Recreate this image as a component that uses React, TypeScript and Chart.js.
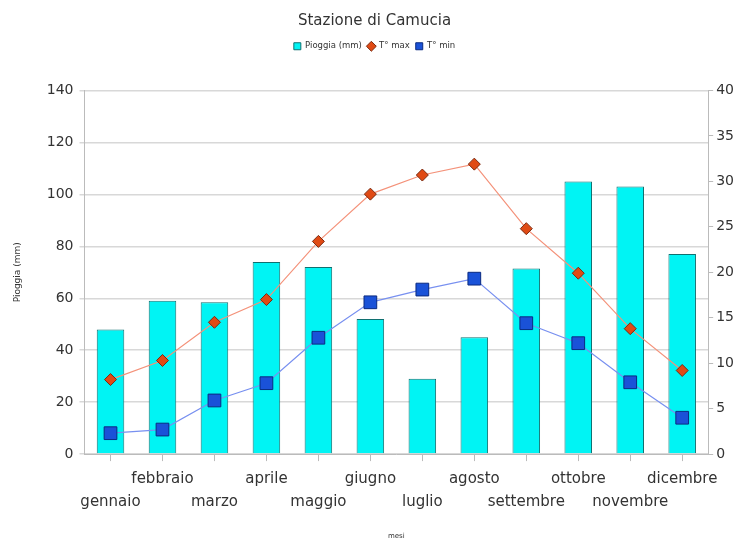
import React, { useEffect, useRef } from "react";
import { Chart, registerables } from "chart.js";

Chart.register(...registerables);

const months: (string | string[])[] = [
  ["", "gennaio"], ["febbraio"], ["", "marzo"], ["aprile"], ["", "maggio"], ["giugno"],
  ["", "luglio"], ["agosto"], ["", "settembre"], ["ottobre"], ["", "novembre"], ["dicembre"],
];
const pioggia = [48, 59, 58.5, 74, 72, 52, 29, 45, 71.5, 105, 103, 77];
const tMax = [8.2, 10.3, 14.5, 17, 23.4, 28.6, 30.7, 31.9, 24.8, 19.9, 13.8, 9.2];
const tMin = [2.3, 2.7, 5.9, 7.8, 12.8, 16.7, 18.1, 19.3, 14.4, 12.2, 7.9, 4.0];

const FONT = "'DejaVu Sans', sans-serif";
const legendRank = [1, 2, 0];

const legendSpacer = {
  id: "legendSpacer",
  afterInit(chart: any) {
    const lg = chart.legend;
    if (!lg) return;
    const orig = lg.fit;
    lg.fit = function () {
      orig.call(this);
      this.height += 30;
    };
  },
};

export default function App() {
  const ref = useRef<HTMLCanvasElement>(null);
  useEffect(() => {
    if (!ref.current) return;
    const chart = new Chart(ref.current, {
      plugins: [legendSpacer],
      data: {
        labels: months,
        datasets: [
          {
            type: "line",
            label: "T° max",
            data: tMax,
            yAxisID: "y1",
            borderColor: "#f4927a",
            borderWidth: 1.2,
            backgroundColor: "#e04a14",
            pointBackgroundColor: "#e04a14",
            pointBorderColor: "#7a2a10",
            pointBorderWidth: 1,
            pointStyle: "rectRot",
            pointRadius: 6,
            tension: 0,
            order: 1,
          },
          {
            type: "line",
            label: "T° min",
            data: tMin,
            yAxisID: "y1",
            borderColor: "#7890f0",
            borderWidth: 1.2,
            backgroundColor: "#1a52d8",
            pointBackgroundColor: "#1a52d8",
            pointBorderColor: "#0a2a80",
            pointBorderWidth: 1,
            pointStyle: "rect",
            pointRadius: 9,
            tension: 0,
            order: 2,
          },
          {
            type: "bar",
            label: "Pioggia (mm)",
            data: pioggia,
            yAxisID: "y",
            backgroundColor: "#00f4f4",
            borderColor: "#107070",
            borderWidth: 1,
            barPercentage: 0.53,
            categoryPercentage: 1,
            pointStyle: "rect",
            order: 3,
          },
        ],
      },
      options: {
        animation: false,
        responsive: true,
        maintainAspectRatio: false,
        layout: { padding: { left: 12, right: 1, top: 12, bottom: 0 } },
        plugins: {
          title: {
            display: true,
            text: "Stazione di Camucia",
            color: "#333",
            font: { family: FONT, size: 15, weight: "normal" },
            padding: { top: 0, bottom: 6 },
          },
          legend: {
            display: true,
            labels: {
              usePointStyle: true,
              boxWidth: 7,
              boxHeight: 7,
              padding: 6,
              color: "#333",
              font: { family: FONT, size: 8.5 },
              sort: (a: any, b: any) => legendRank[a.datasetIndex] - legendRank[b.datasetIndex],
            },
          },
          tooltip: { enabled: false },
        },
        scales: {
          x: {
            grid: { display: true, offset: false, drawOnChartArea: false, drawTicks: true, tickLength: 7, color: "#bbb" },
            border: { display: true, color: "#bbb" },
            ticks: {
              color: "#333",
              font: { family: FONT, size: 15, lineHeight: 1.55 },
              maxRotation: 0,
              autoSkip: false,
              padding: 6,
            },
            title: { display: true, text: "mesi", color: "#333", font: { family: FONT, size: 7 }, padding: { top: 12, bottom: 2 } },
          },
          y: {
            position: "left",
            min: 0,
            max: 140,
            ticks: { stepSize: 20, color: "#333", font: { family: FONT, size: 14 }, padding: 6 },
            grid: { color: "#d8d8d8", lineWidth: 1.5, drawTicks: true, tickLength: 5 },
            border: { display: true, color: "#bbb" },
            title: { display: true, text: "Pioggia (mm)", color: "#333", font: { family: FONT, size: 9 }, padding: { top: 0, bottom: 18 } },
          },
          y1: {
            position: "right",
            min: 0,
            max: 40,
            ticks: { stepSize: 5, color: "#333", font: { family: FONT, size: 14 }, padding: 3 },
            grid: { drawOnChartArea: false, drawTicks: true, tickLength: 5, color: "#bbb" },
            border: { display: true, color: "#bbb" },
          },
        },
      },
    });
    return () => chart.destroy();
  }, []);
  return (
    <div style={{ position: "fixed", left: 0, top: 0, width: 738, height: 542, background: "#fff" }}>
      <canvas ref={ref} />
    </div>
  );
}
